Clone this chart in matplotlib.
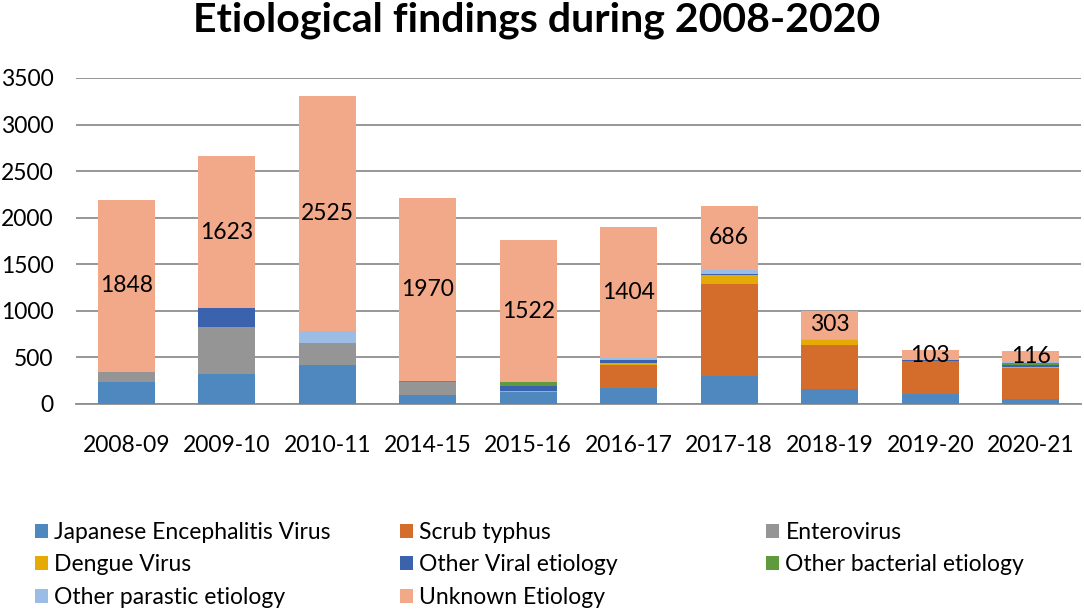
import matplotlib.pyplot as plt
import numpy as np

plt.rcParams['font.family'] = ['Lato', 'DejaVu Sans']

# Data
years = ['2008-09', '2009-10', '2010-11', '2014-15', '2015-16',
         '2016-17', '2017-18', '2018-19', '2019-20', '2020-21']
jev = [232, 325, 414, 100, 125, 171, 296, 161, 107, 54]
scrub = [0, 0, 0, 0, 0, 243, 992, 468, 350, 332]
entero = [115, 500, 240, 136, 0, 0, 0, 0, 0, 0]
dengue = [0, 0, 0, 0, 15, 25, 99, 53, 10, 10]
other_viral = [0, 210, 0, 0, 50, 30, 14, 0, 5, 20]
other_bact = [0, 0, 0, 8, 45, 5, 0, 0, 0, 20]
other_para = [0, 0, 125, 0, 0, 20, 40, 15, 0, 12]
unknown = [1848, 1623, 2525, 1970, 1522, 1404, 686, 303, 103, 116]

series = [
    ('Japanese Encephalitis Virus', jev, '#4F88BF'),
    ('Scrub typhus', scrub, '#D46D2B'),
    ('Enterovirus', entero, '#959595'),
    ('Dengue Virus', dengue, '#E6AA05'),
    ('Other Viral etiology', other_viral, '#3B63AD'),
    ('Other bacterial etiology', other_bact, '#5F9B3D'),
    ('Other parastic etiology', other_para, '#9BBDE5'),
    ('Unknown Etiology', unknown, '#F2A98A'),
]

W, H = 1084, 611
FS = 16.5

fig = plt.figure(figsize=(W / 100, H / 100), dpi=100)
ax = fig.add_axes([76 / W, 1 - 404 / H, 1005 / W, (404 - 78) / H])

x = np.arange(len(years))
bottom = np.zeros(len(years))
handles = {}
for name, vals, col in series:
    vals = np.array(vals, dtype=float)
    bars = ax.bar(x, vals, 0.566, bottom=bottom, color=col, label=name, zorder=3)
    handles[name] = bars
    if name == 'Unknown Etiology':
        ax.bar_label(bars, labels=[str(v) for v in unknown], label_type='center',
                     fontsize=FS, color='black')
    bottom += vals

ax.set_xlim(-0.5, len(years) - 0.5)
ax.set_ylim(0, 3500)
ax.set_yticks(range(0, 3501, 500))
ax.set_xticks(x)
ax.set_xticklabels(years)
ax.tick_params(axis='both', length=0, labelsize=FS)
ax.tick_params(axis='y', pad=16)
ax.tick_params(axis='x', pad=22)
ax.grid(axis='y', color='#8F8F8F', linewidth=1.3, zorder=0)
for s in ['top', 'right', 'left']:
    ax.spines[s].set_visible(False)
ax.spines['bottom'].set_color('#8F8F8F')
ax.spines['bottom'].set_linewidth(1.3)

fig.text(537 / W, 1 - 20 / H, 'Etiological findings during 2008-2020', fontsize=29.5,
         fontweight='bold', ha='center', va='center')

# Legend laid out in three fixed-width columns like the original
cols = [
    ['Japanese Encephalitis Virus', 'Dengue Virus', 'Other parastic etiology'],
    ['Scrub typhus', 'Other Viral etiology', 'Unknown Etiology'],
    ['Enterovirus', 'Other bacterial etiology'],
]
col_x = [35, 400, 766]
for cx, names in zip(col_x, cols):
    fig.legend([handles[n] for n in names], names, loc='upper left',
               bbox_to_anchor=(cx / W, 1 - 522 / H), frameon=False,
               fontsize=FS, handlelength=0.55, handleheight=0.55,
               handletextpad=0.3, labelspacing=0.5, borderaxespad=0, borderpad=0)

fig.savefig('out.png', dpi=100)
